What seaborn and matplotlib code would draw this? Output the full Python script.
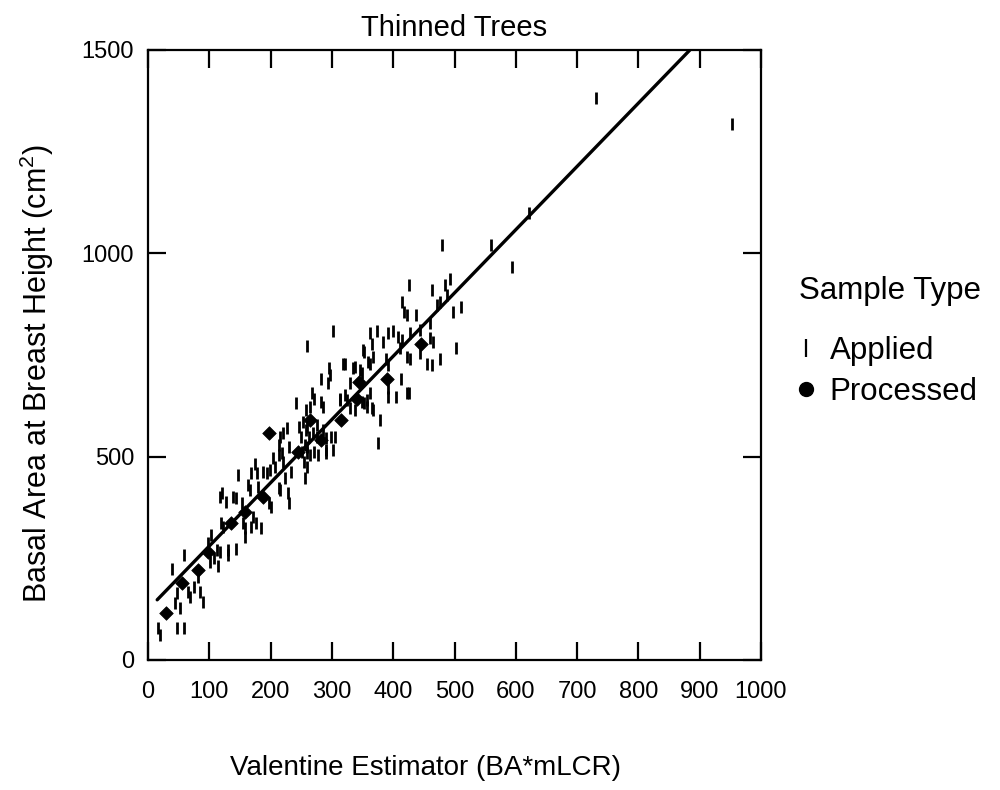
import matplotlib
matplotlib.use("Agg")
import matplotlib.pyplot as plt
from matplotlib.lines import Line2D
import seaborn as sns

# ---------------- data ----------------
applied_x = [17, 20, 48, 59, 44, 53, 48, 39, 66, 69, 75, 81, 85, 89, 59, 102, 98, 101, 107, 115,
             112, 117, 130, 131, 143, 119, 123, 117, 121, 127, 139, 143, 147, 158, 155, 158, 153, 163,
             166, 168, 177, 175, 172, 176, 168, 185, 180, 188, 194, 199, 207, 197, 201, 204, 213, 213,
             215, 223, 229, 230, 221, 219, 230, 234, 251, 259, 256, 260, 264, 270, 278, 291,
             213, 215, 221, 226, 247, 241, 253, 259, 262, 250, 256, 259, 254, 258, 264, 267, 270, 283,
             286, 275, 291, 299, 301, 291, 275, 258, 269, 286, 305,
             282, 294, 297, 330, 313, 321, 313, 324, 338, 330, 349, 357, 367, 362, 352, 357, 378, 376,
             391, 392, 405, 422, 425, 365,
             321, 335, 346, 338, 349, 362, 296, 318, 351, 359, 367, 388, 392, 365, 384, 408, 414, 362,
             373, 392, 400, 301, 259, 352, 411, 413, 427, 444, 460, 465, 502, 455, 463, 476, 422, 427, 444,
             414, 417, 422, 437, 471, 476, 498, 511, 426, 464, 484, 488, 492, 479, 559, 593, 621, 731,
             953, 460]
applied_y = [78, 61, 78, 78, 139, 127, 164, 225, 168, 156, 180, 205, 168, 143, 258, 307, 287, 242, 250, 231,
             270, 266, 270, 258, 274, 338, 328, 402, 410, 389, 402, 398, 455, 303, 336, 324, 385, 430,
             418, 459, 459, 483, 352, 336, 328, 324, 426, 463, 459, 467, 475, 385, 377, 496, 504, 422,
             418, 447, 410, 385, 488, 508, 524, 463, 512, 524, 447, 475, 504, 512, 504, 516,
             529, 549, 557, 570, 574, 633, 586, 574, 549, 549, 529, 508, 488, 615, 623, 656, 643, 635,
             623, 549, 545, 549, 516, 508, 578, 566, 557, 566, 548,
             692, 680, 701, 680, 643, 651, 639, 639, 615, 619, 635, 639, 615, 656, 631, 623, 590, 533,
             668, 647, 647, 656, 656, 619,
             729, 717, 713, 720, 705, 729, 719, 729, 762, 733, 746, 741, 725, 778, 783, 795, 787, 803,
             808, 803, 808, 808, 771, 758, 766, 692, 803, 811, 791, 783, 766, 729, 725, 741, 746, 741, 754,
             881, 856, 848, 848, 873, 881, 856, 869, 922, 910, 922, 898, 936, 1020, 1020, 966, 1098, 1382,
             1318, 828]

processed_x = [29, 55, 81, 98, 135, 158, 188, 198, 245, 264, 283, 315, 341, 344, 390, 446]
processed_y = [115, 189, 221, 266, 336, 365, 402, 559, 512, 590, 541, 590, 643, 683, 692, 778]

fit_x = [15, 884]
fit_y = [148, 1500]

x_ticks = [0, 100, 200, 300, 400, 500, 600, 700, 800, 900, 1000]
y_ticks = [0, 500, 1000, 1500]

# ---------------- styling ----------------
sns.set_style("ticks")
plt.rcParams["font.family"] = ["Liberation Sans", "DejaVu Sans"]
plt.rcParams["mathtext.default"] = "regular"
plt.rcParams["text.color"] = "black"
plt.rcParams["axes.labelcolor"] = "black"
plt.rcParams["xtick.color"] = "black"
plt.rcParams["ytick.color"] = "black"

fig = plt.figure(figsize=(10, 7.9), dpi=100)
ax = fig.add_axes([0.148, 1 - 660 / 790, 0.613, 610 / 790])

sns.scatterplot(x=applied_x, y=applied_y, marker="|", s=75, color="black",
                linewidth=2.0, ax=ax, legend=False)
sns.scatterplot(x=processed_x, y=processed_y, marker="D", s=48, color="black",
                edgecolor="black", linewidth=0.5, ax=ax, legend=False)
sns.lineplot(x=fit_x, y=fit_y, color="black", linewidth=2.4, ax=ax)

ax.set_xlim(0, 1000)
ax.set_ylim(0, 1500)
ax.set_xticks(x_ticks)
ax.set_xticklabels([str(v) for v in x_ticks])
ax.set_yticks(y_ticks)
ax.set_yticklabels([str(v) for v in y_ticks])
ax.tick_params(axis="both", direction="in", length=13, width=1.6, colors="black",
               labelcolor="black", labelsize=17, top=True, right=True)
ax.tick_params(axis="x", pad=15)
ax.tick_params(axis="y", pad=10)
for sp in ax.spines.values():
    sp.set_linewidth(1.6)
    sp.set_color("black")

ax.set_title("Thinned Trees", fontsize=21, pad=10, color="black")
ax.set_xlabel("Valentine Estimator (BA*mLCR)", fontsize=20, color="black")
ax.xaxis.set_label_coords(0.453, -0.155)
ax.set_ylabel("Basal Area at Breast Height (cm$^2$)", fontsize=22, color="black")
ax.yaxis.set_label_coords(-0.15, 0.47)

handles = [
    Line2D([], [], marker="|", linestyle="none", color="black", markersize=13, markeredgewidth=1.6),
    Line2D([], [], marker="o", linestyle="none", color="black", markersize=10),
]
leg = fig.legend(handles, ["Applied", "Processed"], title="Sample Type",
                 loc="upper left", bbox_to_anchor=(0.783, 0.671), frameon=False,
                 fontsize=22.5, title_fontsize=22.5, handlelength=0.5, handletextpad=0.5,
                 borderpad=0, labelspacing=0.35, alignment="left")
leg._legend_box.sep = 22
for t in leg.get_texts():
    t.set_color("black")
leg.get_title().set_color("black")

fig.savefig("out.png", dpi=100)
